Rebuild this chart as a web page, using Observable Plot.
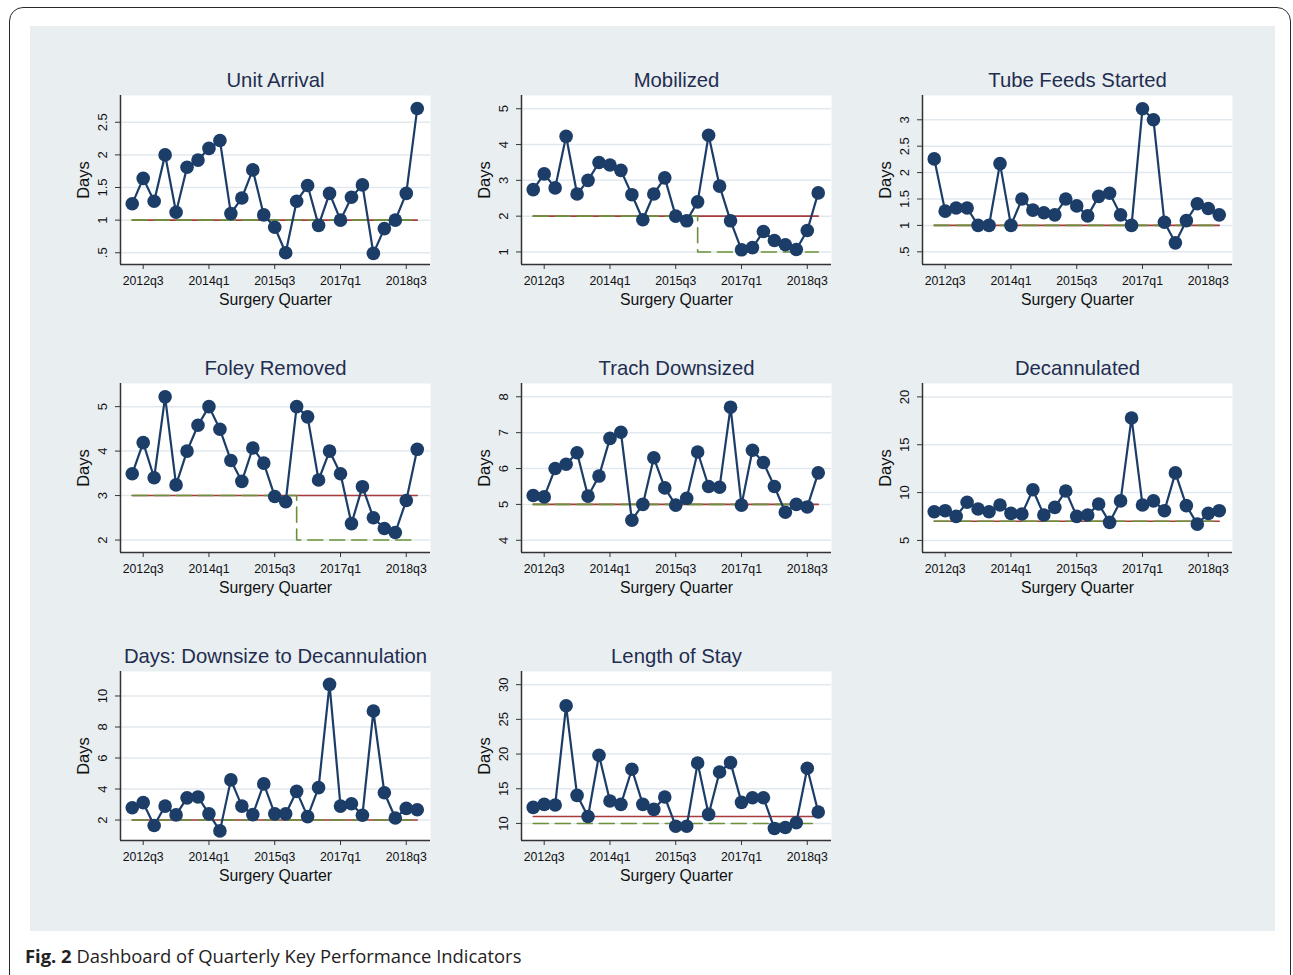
<!DOCTYPE html>
<html>
<head>
<meta charset="utf-8">
<script src="https://cdn.jsdelivr.net/npm/d3@7"></script>
<script src="https://cdn.jsdelivr.net/npm/@observablehq/plot@0.6"></script>
<style>
  html, body { margin: 0; padding: 0; background: #ffffff; }
  #page { position: relative; width: 1293px; height: 975px; overflow: hidden; font-family: "Liberation Sans", Arial, sans-serif; }
  #border { position: absolute; left: 9px; top: 7px; width: 1282px; height: 990px; border: 1.5px solid #2a2a2a; border-radius: 14px; box-sizing: border-box; }
  #bg { position: absolute; left: 30px; top: 26px; width: 1245px; height: 905px; background: #e9eef1; }
  #caption { position: absolute; left: 25px; top: 943px; font-family: "Open Sans", "Noto Sans", sans-serif; font-size: 18.4px; color: #222; white-space: nowrap; }
  #caption b { font-weight: 700; }
  .panel { position: absolute; }
  .panel, .panel text, .panel g { font-family: "Liberation Sans", Arial, sans-serif !important; }
</style>
</head>
<body>
<div id="page">
  <div id="border"></div>
  <div id="bg"></div>
  <div id="caption"><b>Fig. 2</b> Dashboard of Quarterly Key Performance Indicators</div>
</div>
<script>
// ---- Data ----
const quarters = ["2012q2","2012q3","2012q4","2013q1","2013q2","2013q3","2013q4","2014q1","2014q2","2014q3","2014q4","2015q1","2015q2","2015q3","2015q4","2016q1","2016q2","2016q3","2016q4","2017q1","2017q2","2017q3","2017q4","2018q1","2018q2","2018q3","2018q4"];
const xTickLabels = ["2012q3","2014q1","2015q3","2017q1","2018q3"];

const panelTitles = ["Unit Arrival","Mobilized","Tube Feeds Started","Foley Removed","Trach Downsized","Decannulated","Days: Downsize to Decannulation","Length of Stay"];

const unitArrival = [1.25,1.64,1.29,2.0,1.12,1.81,1.92,2.10,2.22,1.10,1.34,1.77,1.08,0.89,0.50,1.29,1.53,0.92,1.41,1.0,1.35,1.54,0.49,0.87,1.0,1.41,2.71];
const mobilized = [2.74,3.18,2.79,4.23,2.62,3.0,3.5,3.43,3.28,2.6,1.9,2.62,3.07,2.0,1.87,2.4,4.26,2.84,1.87,1.06,1.12,1.57,1.32,1.2,1.07,1.6,2.65];
const tubeFeeds = [2.26,1.27,1.33,1.33,1.0,1.0,2.17,1.0,1.5,1.29,1.24,1.2,1.5,1.37,1.18,1.55,1.61,1.2,1.0,3.21,3.0,1.06,0.67,1.09,1.41,1.32,1.2];
const foleyRemoved = [3.49,4.19,3.4,5.22,3.24,4.0,4.58,5.0,4.49,3.79,3.32,4.07,3.73,2.98,2.86,5.0,4.77,3.35,4.0,3.49,2.37,3.2,2.5,2.26,2.17,2.89,4.04];
const trachDownsized = [5.25,5.21,6.0,6.12,6.44,5.23,5.79,6.84,7.01,4.56,5.0,6.3,5.46,4.98,5.17,6.46,5.5,5.48,7.71,4.98,6.51,6.17,5.5,4.78,5.0,4.93,5.88];
const decannulated = [8.0,8.11,7.52,8.99,8.29,8.0,8.71,7.83,7.76,10.3,7.66,8.46,10.17,7.52,7.66,8.81,6.89,9.13,17.8,8.71,9.13,8.11,12.06,8.64,6.71,7.83,8.11];
const downsizeToDecann = [2.79,3.12,1.65,2.9,2.33,3.43,3.49,2.4,1.3,4.59,2.9,2.35,4.33,2.4,2.4,3.85,2.22,4.09,10.75,2.9,3.05,2.31,9.03,3.76,2.13,2.75,2.66];
const lengthOfStay = [12.31,12.75,12.65,26.96,14.05,11.0,19.83,13.23,12.75,17.81,12.75,12.02,13.81,9.6,9.6,18.72,11.3,17.42,18.77,13.04,13.71,13.71,9.28,9.42,10.1,17.95,11.64];

// red solid reference level per panel
const referenceLevels = [1, 2, 1, 3, 5, 7, 2, 11];
// green dashed goal lines per panel: [quarter, days] vertices
const goalUnitArrival = [["2012q2",1],["2018q4",1]];
const goalMobilized = [["2012q2",2],["2016q1",2],["2016q1",1],["2018q4",1]];
const goalTubeFeeds = [["2012q2",1],["2018q4",1]];
const goalFoley = [["2012q2",3],["2016q1",3],["2016q1",2],["2018q4",2]];
const goalTrach = [["2012q2",5],["2018q4",5]];
const goalDecannulated = [["2012q2",7],["2018q4",7]];
const goalDownsize = [["2012q2",2],["2018q4",2]];
const goalLengthOfStay = [["2012q2",10],["2018q4",10]];

// y-axis tick values and labels per panel
const ticksUnitArrival = [0.5,1,1.5,2,2.5];
const labelsUnitArrival = [".5","1","1.5","2","2.5"];
const ticksMobilized = [1,2,3,4,5];
const ticksTubeFeeds = [0.5,1,1.5,2,2.5,3];
const labelsTubeFeeds = [".5","1","1.5","2","2.5","3"];
const ticksFoley = [2,3,4,5];
const ticksTrach = [4,5,6,7,8];
const ticksDecannulated = [5,10,15,20];
const ticksDownsize = [2,4,6,8,10];
const ticksLengthOfStay = [10,15,20,25,30];

// ---- Panels ----
const panels = [
  {title: panelTitles[0], values: unitArrival, ref: referenceLevels[0], goal: goalUnitArrival, ticks: ticksUnitArrival, labels: labelsUnitArrival, domain: [0.32, 2.91]},
  {title: panelTitles[1], values: mobilized, ref: referenceLevels[1], goal: goalMobilized, ticks: ticksMobilized, domain: [0.65, 5.37]},
  {title: panelTitles[2], values: tubeFeeds, ref: referenceLevels[2], goal: goalTubeFeeds, ticks: ticksTubeFeeds, labels: labelsTubeFeeds, domain: [0.26, 3.46]},
  {title: panelTitles[3], values: foleyRemoved, ref: referenceLevels[3], goal: goalFoley, ticks: ticksFoley, domain: [1.72, 5.52]},
  {title: panelTitles[4], values: trachDownsized, ref: referenceLevels[4], goal: goalTrach, ticks: ticksTrach, domain: [3.66, 8.37]},
  {title: panelTitles[5], values: decannulated, ref: referenceLevels[5], goal: goalDecannulated, ticks: ticksDecannulated, domain: [3.74, 21.4]},
  {title: panelTitles[6], values: downsizeToDecann, ref: referenceLevels[6], goal: goalDownsize, ticks: ticksDownsize, domain: [0.68, 11.58]},
  {title: panelTitles[7], values: lengthOfStay, ref: referenceLevels[7], goal: goalLengthOfStay, ticks: ticksLengthOfStay, domain: [7.54, 31.9]}
];

const colLefts = [70, 471, 872];
const rowTops = [57, 345, 633];
const xDomain = [-1.07, 27.21];
const xTicks = xTickLabels.map(q => quarters.indexOf(q));

const NAVY = "#1b3d68", RED = "#a83b3d", GREEN = "#6b913b", AXIS = "#333333";
const FONT = "Liberation Sans, Arial, sans-serif";

function makePanel(cfg) {
  const rows = cfg.values.map((v, i) => ({i, v}));
  const refRows = [{i: 0, v: cfg.ref}, {i: quarters.length - 1, v: cfg.ref}];
  const goalRows = cfg.goal.map(([q, v]) => ({i: quarters.indexOf(q), v}));
  const fmt = cfg.labels ? (d => cfg.labels[cfg.ticks.indexOf(d)]) : (d => String(d));
  return Plot.plot({
    width: 400, height: 288,
    marginTop: 38, marginBottom: 81, marginLeft: 50, marginRight: 40,
    style: {background: "transparent", fontFamily: FONT, fontSize: "12px", color: "#111", overflow: "visible"},
    x: {domain: xDomain, axis: null},
    y: {domain: cfg.domain, axis: null},
    marks: [
      Plot.frame({fill: "white", stroke: null}),
      Plot.gridY(cfg.ticks, {stroke: "#e1e9ee", strokeOpacity: 1, strokeWidth: 1.5}),
      Plot.axisX({ticks: xTicks, tickFormat: d => quarters[d], tickSize: 5, tickPadding: 7, label: null, stroke: AXIS, fontSize: 12.3, fill: "#111"}),
      Plot.axisY({ticks: cfg.ticks, tickFormat: fmt, tickRotate: -90, tickSize: 5, tickPadding: 9, label: null, stroke: AXIS, fontSize: 13, fill: "#111"}),
      Plot.ruleX([xDomain[0]], {stroke: AXIS, strokeWidth: 1.5}),
      Plot.ruleY([cfg.domain[0]], {stroke: AXIS, strokeWidth: 1.5}),
      Plot.line(refRows, {x: "i", y: "v", stroke: RED, strokeWidth: 1.6}),
      Plot.line(goalRows, {x: "i", y: "v", stroke: GREEN, strokeWidth: 1.6, strokeDasharray: "15,7"}),
      Plot.line(rows, {x: "i", y: "v", stroke: NAVY, strokeWidth: 2.2}),
      Plot.dot(rows, {x: "i", y: "v", r: 6.8, fill: NAVY, stroke: "none"}),
      Plot.text([cfg.title], {frameAnchor: "top", lineAnchor: "middle", textAnchor: "middle", dy: -15, fontSize: 20.3, fill: "#1f2d50"}),
      Plot.text(["Days"], {frameAnchor: "left", textAnchor: "middle", lineAnchor: "middle", dx: -37, rotate: -90, fontSize: 16.5, fill: "#111"}),
      Plot.text(["Surgery Quarter"], {frameAnchor: "bottom", textAnchor: "middle", lineAnchor: "middle", dy: 35, fontSize: 15.8, fill: "#111"})
    ]
  });
}

const page = document.getElementById("page");
panels.forEach((cfg, k) => {
  const el = makePanel(cfg);
  el.classList.add("panel");
  el.style.left = colLefts[k % 3] + "px";
  el.style.top = rowTops[Math.floor(k / 3)] + "px";
  page.appendChild(el);
});
</script>
</body>
</html>
